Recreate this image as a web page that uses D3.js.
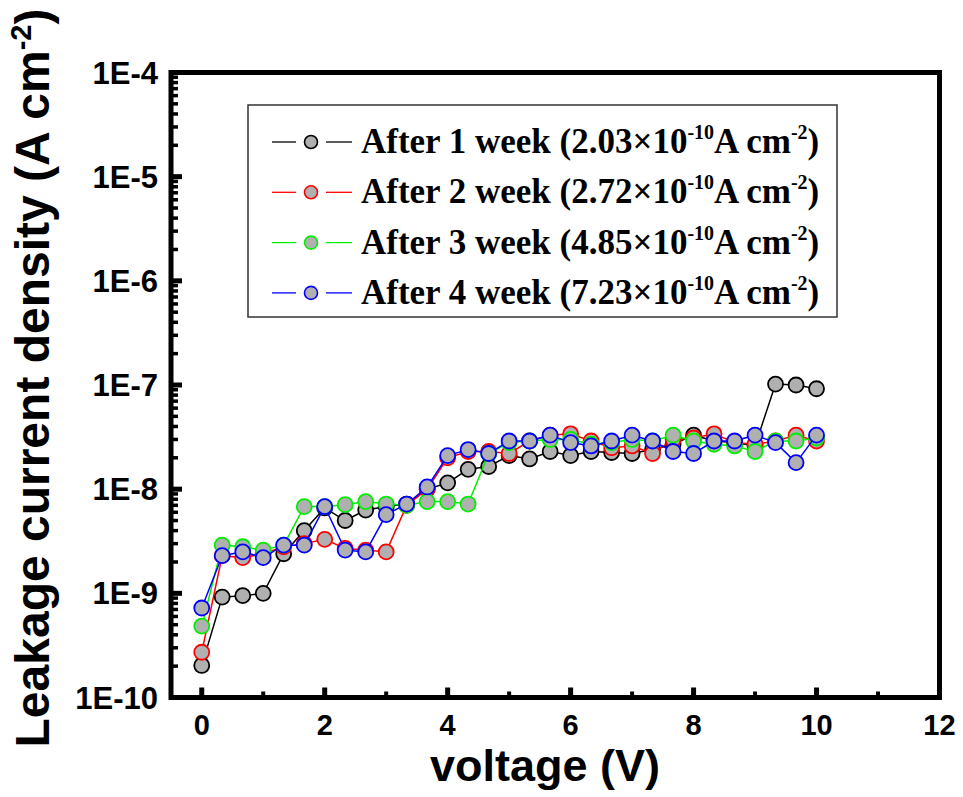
<!DOCTYPE html>
<html>
<head>
<meta charset="utf-8">
<script src="https://cdn.jsdelivr.net/npm/d3@7"></script>
<style>
  body { margin: 0; background: #fff; }
  svg { display: block; }
</style>
</head>
<body>
<div id="area"></div>
<script>
var width = 963,
    height = 797;

// voltage steps (V)
var voltage = [0, 0.333, 0.667, 1, 1.333, 1.667, 2, 2.333, 2.667, 3, 3.333,
               3.667, 4, 4.333, 4.667, 5, 5.333, 5.667, 6, 6.333, 6.667,
               7, 7.333, 7.667, 8, 8.333, 8.667, 9, 9.333, 9.667, 10];

var week1 = [2.03e-10, 9.2e-10, 9.5e-10, 1.0e-9, 2.4e-9, 4.0e-9, 6.6e-9, 5.0e-9, 6.3e-9, 6.8e-9, 7.2e-9,
             1.0e-8, 1.15e-8, 1.55e-8, 1.65e-8, 2.1e-8, 1.95e-8, 2.3e-8, 2.1e-8, 2.3e-8, 2.25e-8,
             2.2e-8, 2.4e-8, 2.7e-8, 3.3e-8, 2.9e-8, 2.8e-8, 2.6e-8, 1.02e-7, 1.0e-7, 9.2e-8];
var week2 = [2.72e-10, 2.3e-9, 2.2e-9, 2.4e-9, 2.8e-9, 3.0e-9, 3.3e-9, 2.7e-9, 2.6e-9, 2.5e-9, 7.0e-9,
             1.0e-8, 2.0e-8, 2.3e-8, 2.3e-8, 2.2e-8, 2.9e-8, 3.3e-8, 3.4e-8, 2.9e-8, 2.5e-8,
             2.6e-8, 2.2e-8, 3.0e-8, 3.1e-8, 3.4e-8, 2.8e-8, 2.7e-8, 2.9e-8, 3.3e-8, 2.9e-8];
var week3 = [4.85e-10, 2.9e-9, 2.8e-9, 2.6e-9, 2.9e-9, 6.8e-9, 6.8e-9, 7.1e-9, 7.6e-9, 7.2e-9, 7.0e-9,
             7.6e-9, 7.6e-9, 7.2e-9, 2.2e-8, 2.8e-8, 2.9e-8, 3.0e-8, 3.0e-8, 2.7e-8, 2.8e-8,
             3.0e-8, 2.9e-8, 3.3e-8, 2.9e-8, 2.7e-8, 2.6e-8, 2.3e-8, 2.9e-8, 2.9e-8, 3.1e-8];
var week4 = [7.23e-10, 2.3e-9, 2.5e-9, 2.2e-9, 2.9e-9, 2.9e-9, 6.8e-9, 2.6e-9, 2.5e-9, 5.7e-9, 7.2e-9,
             1.05e-8, 2.1e-8, 2.4e-8, 2.2e-8, 2.9e-8, 2.9e-8, 3.3e-8, 2.8e-8, 2.6e-8, 2.9e-8,
             3.3e-8, 2.9e-8, 2.3e-8, 2.2e-8, 2.9e-8, 2.9e-8, 3.3e-8, 2.8e-8, 1.8e-8, 3.3e-8];

var seriesNames = ['After 1 week', 'After 2 week', 'After 3 week', 'After 4 week'];
var seriesMant = ['2.03', '2.72', '4.85', '7.23'];
var seriesColors = ['#000000', '#ff0000', '#00ee00', '#0000ff'];

var xTicks = [0, 2, 4, 6, 8, 10, 12];
var xMinorTicks = [1, 3, 5, 7, 9, 11];
var yTicks = [1e-10, 1e-9, 1e-8, 1e-7, 1e-6, 1e-5, 1e-4];
var yTickLabels = ['1E-10', '1E-9', '1E-8', '1E-7', '1E-6', '1E-5', '1E-4'];

var markerFill = '#b0b0b0';

var plot = {left: 171, right: 939.5, top: 72.5, bottom: 697.5};

var svg = d3.select('#area').append('svg')
    .attr('width', width)
    .attr('height', height);

var x = d3.scaleLinear().domain([-0.5, 12]).range([plot.left, plot.right]);
var y = d3.scaleLog().domain([1e-10, 1e-4]).range([plot.bottom, plot.top]);

// minor log ticks (2..9 of each decade)
var yMinor = [];
yTicks.slice(0, -1).forEach(function(d) {
  for (var k = 2; k <= 9; k++) yMinor.push(d * k);
});

var axes = svg.append('g');

// x ticks, inside
axes.selectAll('.xmaj').data(xTicks).enter().append('line')
    .attr('x1', function(d) { return x(d); })
    .attr('x2', function(d) { return x(d); })
    .attr('y1', plot.bottom).attr('y2', plot.bottom - 10)
    .attr('stroke', '#000').attr('stroke-width', 5);
axes.selectAll('.xmin').data(xMinorTicks).enter().append('line')
    .attr('x1', function(d) { return x(d); })
    .attr('x2', function(d) { return x(d); })
    .attr('y1', plot.bottom).attr('y2', plot.bottom - 6)
    .attr('stroke', '#000').attr('stroke-width', 4);

// y ticks, inside
axes.selectAll('.ymaj').data(yTicks).enter().append('line')
    .attr('x1', plot.left).attr('x2', plot.left + 11)
    .attr('y1', function(d) { return y(d); })
    .attr('y2', function(d) { return y(d); })
    .attr('stroke', '#000').attr('stroke-width', 5);
axes.selectAll('.ymin').data(yMinor).enter().append('line')
    .attr('x1', plot.left).attr('x2', plot.left + 7)
    .attr('y1', function(d) { return y(d); })
    .attr('y2', function(d) { return y(d); })
    .attr('stroke', '#000').attr('stroke-width', 3.5);

// frame
axes.append('rect')
    .attr('x', plot.left).attr('y', plot.top)
    .attr('width', plot.right - plot.left)
    .attr('height', plot.bottom - plot.top)
    .attr('fill', 'none').attr('stroke', '#000').attr('stroke-width', 5);

// tick labels
axes.selectAll('.xlab').data(xTicks).enter().append('text')
    .attr('x', function(d) { return x(d); })
    .attr('y', 735)
    .attr('text-anchor', 'middle')
    .style('font', 'bold 29px "Liberation Sans", Arial, sans-serif')
    .text(function(d) { return d; });

axes.selectAll('.ylab').data(yTicks).enter().append('text')
    .attr('x', 158)
    .attr('y', function(d) { return y(d) + 11; })
    .attr('text-anchor', 'end')
    .style('font', 'bold 31px "Liberation Sans", Arial, sans-serif')
    .text(function(d, i) { return yTickLabels[i]; });

// axis titles
svg.append('text')
    .attr('x', 545).attr('y', 781)
    .attr('text-anchor', 'middle')
    .style('font', 'bold 45px "Liberation Sans", Arial, sans-serif')
    .text('voltage (V)');

var yTitle = svg.append('text')
    .attr('transform', 'translate(49,378) rotate(-90)')
    .attr('text-anchor', 'middle')
    .style('font', 'bold 48px "Liberation Sans", Arial, sans-serif');
yTitle.append('tspan').text('Leakage current density (A cm');
yTitle.append('tspan').attr('dy', -18).style('font-size', '29px').text('-2');
yTitle.append('tspan').attr('dy', 18).text(')');

// data series: line then circles, black first so blue ends on top
var allSeries = [week1, week2, week3, week4];
var line = d3.line()
    .x(function(d, i) { return x(voltage[i]); })
    .y(function(d) { return y(d); });

allSeries.forEach(function(vals, s) {
  var g = svg.append('g');
  g.append('path')
      .attr('d', line(vals))
      .attr('fill', 'none')
      .attr('stroke', seriesColors[s])
      .attr('stroke-width', 1.5);
  g.selectAll('circle').data(vals).enter().append('circle')
      .attr('cx', function(d, i) { return x(voltage[i]); })
      .attr('cy', function(d) { return y(d); })
      .attr('r', 7.5)
      .attr('fill', markerFill)
      .attr('stroke', seriesColors[s])
      .attr('stroke-width', 1.8);
});

// legend
var legend = svg.append('g');
legend.append('rect')
    .attr('x', 248).attr('y', 105)
    .attr('width', 589).attr('height', 212)
    .attr('fill', '#fff').attr('stroke', '#333').attr('stroke-width', 1.5);

seriesNames.forEach(function(name, s) {
  var base = 153 + s * 50.3;
  var cy = base - 11;
  legend.append('line')
      .attr('x1', 272).attr('x2', 296).attr('y1', cy).attr('y2', cy)
      .attr('stroke', seriesColors[s]).attr('stroke-width', 1.3);
  legend.append('line')
      .attr('x1', 326).attr('x2', 352).attr('y1', cy).attr('y2', cy)
      .attr('stroke', seriesColors[s]).attr('stroke-width', 1.3);
  legend.append('circle')
      .attr('cx', 311).attr('cy', cy).attr('r', 6.5)
      .attr('fill', markerFill)
      .attr('stroke', seriesColors[s]).attr('stroke-width', 1.6);

  var t = legend.append('text')
      .attr('x', 361).attr('y', base)
      .style('font', 'bold 35px "Liberation Serif", "Times New Roman", serif');
  t.append('tspan').text(name + ' (' + seriesMant[s] + '\u00d710');
  t.append('tspan').attr('dy', -14).style('font-size', '20px').text('-10');
  t.append('tspan').attr('dy', 14).text('A cm');
  t.append('tspan').attr('dy', -14).style('font-size', '20px').text('-2');
  t.append('tspan').attr('dy', 14).text(')');
});
</script>
</body>
</html>
